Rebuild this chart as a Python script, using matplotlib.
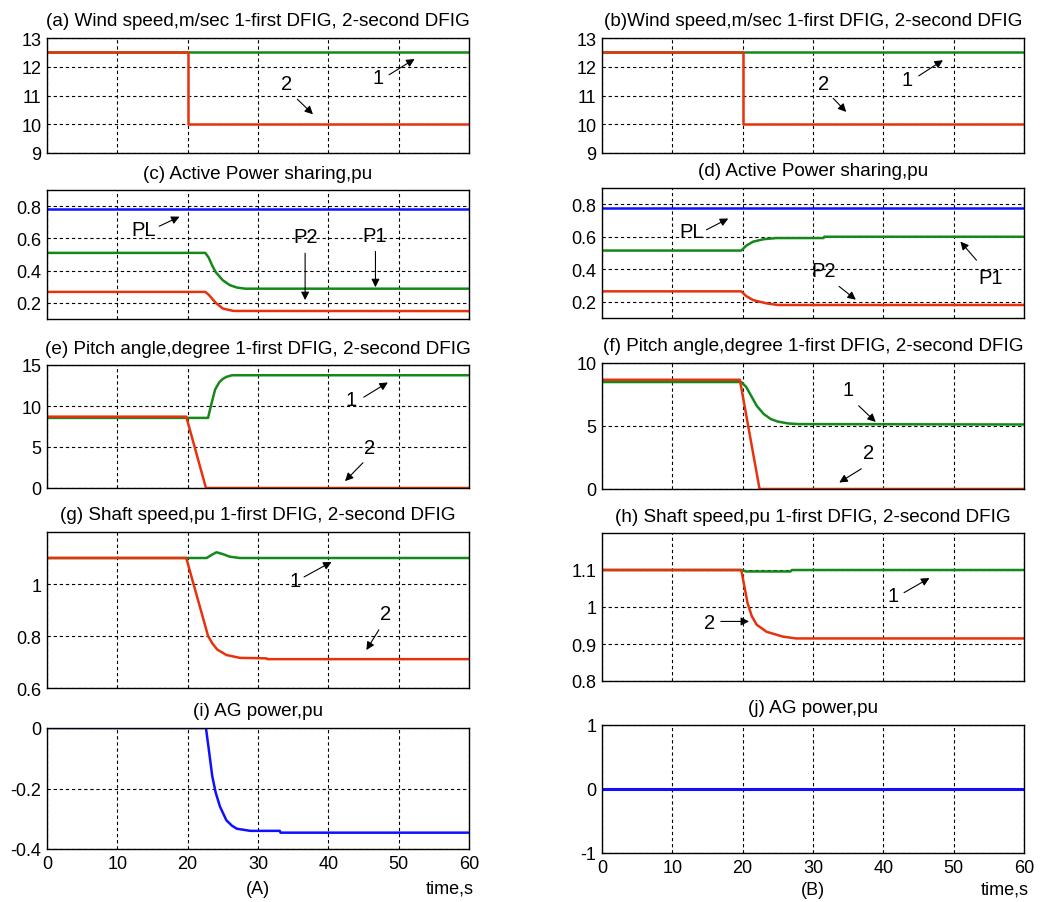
import matplotlib.pyplot as plt

plt.rcParams['font.family'] = ['Liberation Sans', 'DejaVu Sans']
plt.rcParams['axes.unicode_minus'] = False

# ---- datos ----
# (a),(b) velocidad del viento
t_wind = [0, 20, 20, 60]
wind1 = [12.5, 12.5, 12.5, 12.5]
wind2 = [12.5, 12.5, 10.0, 10.0]

# (c) potencia activa caso A
t_pl = [0, 60]
pl = [0.78, 0.78]
t_p1_A = [0, 22.5, 23.0, 23.5, 24.0, 25.0, 26.0, 27.0, 28.2, 60]
p1_A = [0.51, 0.51, 0.48, 0.43, 0.39, 0.34, 0.31, 0.295, 0.288, 0.288]
t_p2_A = [0, 22.5, 23.0, 24.0, 25.0, 26.5, 60]
p2_A = [0.268, 0.268, 0.25, 0.2, 0.165, 0.15, 0.149]

# (d) potencia activa caso B
t_p1_B = [0, 19.8, 20.5, 21.5, 23.0, 24.8, 31.5, 31.6, 60]
p1_B = [0.515, 0.515, 0.545, 0.57, 0.585, 0.592, 0.592, 0.6, 0.6]
t_p2_B = [0, 19.8, 20.5, 21.5, 23.4, 25.0, 60]
p2_B = [0.264, 0.264, 0.235, 0.21, 0.19, 0.18, 0.18]

# (e) angulo de pitch caso A
t_pitch1_A = [0, 22.9, 23.3, 23.9, 24.5, 25.0, 25.5, 26.3, 60]
pitch1_A = [8.55, 8.55, 10.0, 12.0, 12.9, 13.3, 13.55, 13.75, 13.75]
t_pitch2_A = [0, 19.8, 22.6, 60]
pitch2_A = [8.7, 8.7, 0, 0]

# (f) angulo de pitch caso B
t_pitch1_B = [0, 19.8, 20.5, 21.0, 22.0, 23.0, 24.0, 25.0, 26.5, 28.0, 60]
pitch1_B = [8.49, 8.49, 8.1, 7.6, 6.6, 5.95, 5.55, 5.35, 5.2, 5.15, 5.12]
t_pitch2_B = [0, 19.6, 22.4, 60]
pitch2_B = [8.67, 8.67, 0, 0]

# (g) velocidad del eje caso A
t_w1_A = [0, 22.7, 23.4, 24.1, 25.0, 26.0, 27.4, 60]
w1_A = [1.1, 1.1, 1.112, 1.122, 1.115, 1.105, 1.1, 1.1]
t_w2_A = [0, 19.8, 22.9, 23.5, 24.2, 25.5, 27.4, 31.2, 31.3, 60]
w2_A = [1.1, 1.1, 0.8, 0.772, 0.748, 0.727, 0.716, 0.714, 0.711, 0.711]

# (h) velocidad del eje caso B
t_w1_B = [0, 19.8, 20.5, 26.8, 27.0, 60]
w1_B = [1.1, 1.1, 1.096, 1.096, 1.1, 1.1]
t_w2_B = [0, 19.8, 20.2, 20.7, 21.3, 22.0, 23.4, 25.7, 27.6, 60]
w2_B = [1.1, 1.1, 1.06, 1.01, 0.975, 0.952, 0.933, 0.92, 0.915, 0.915]

# (i),(j) potencia AG
t_ag_A = [0, 22.6, 23.0, 23.5, 24.0, 24.6, 25.5, 26.3, 27.0, 28.9, 33.1, 33.2, 60]
ag_A = [0, 0, -0.07, -0.16, -0.215, -0.26, -0.305, -0.323, -0.333, -0.34, -0.34, -0.346, -0.346]
t_ag_B = [0, 60]
ag_B = [0, 0]

titulos = ["(a) Wind speed,m/sec 1-first DFIG, 2-second DFIG",
           "(b)Wind speed,m/sec 1-first DFIG, 2-second DFIG",
           "(c) Active Power sharing,pu", "(d) Active Power sharing,pu",
           "(e) Pitch angle,degree 1-first DFIG, 2-second DFIG",
           "(f) Pitch angle,degree 1-first DFIG, 2-second DFIG",
           "(g) Shaft speed,pu 1-first DFIG, 2-second DFIG",
           "(h) Shaft speed,pu 1-first DFIG, 2-second DFIG",
           "(i) AG power,pu", "(j) AG power,pu"]

ROJO = '#e8320c'
VERDE = '#14891a'
AZUL = '#1010ff'

W, H = 1042, 903
fig = plt.figure(figsize=(W / 100, H / 100), dpi=100)


def eje(x0, x1, ytop, ybot):
    return fig.add_axes([x0 / W, 1 - ybot / H, (x1 - x0) / W, (ybot - ytop) / H])


def formato(ax, titulo, ylim, yticks, ylabels=None, xlabels=False):
    ax.set_xlim(0, 60)
    ax.set_ylim(*ylim)
    ax.set_xticks(range(0, 61, 10))
    ax.set_yticks(yticks)
    if ylabels is not None:
        ax.set_yticklabels(ylabels)
    if not xlabels:
        ax.set_xticklabels([])
    ax.grid(True, color='black', linestyle=(0, (3, 2.5)), linewidth=0.8)
    ax.tick_params(direction='in', length=0, labelsize=13, pad=4)
    for s in ax.spines.values():
        s.set_linewidth(1.0)
    ax.set_title(titulo, fontsize=13.6, pad=9)


def flecha(ax, texto, xy, xytext, xyarrow):
    ax.text(xytext[0], xytext[1], texto, fontsize=14.5, ha='center', va='center')
    ax.annotate('', xy=xy, xytext=xyarrow,
                arrowprops=dict(arrowstyle='-|>', color='black', lw=0.8,
                                mutation_scale=12))


LX0, LX1 = 47, 469
RX0, RX1 = 602, 1024
lw = 1.8

# (a)
ax = eje(LX0, LX1, 39, 154)
ax.plot(t_wind, wind1, color=VERDE, lw=lw)
ax.plot(t_wind, wind2, color=ROJO, lw=lw)
formato(ax, titulos[0], (9, 13), [9, 10, 11, 12, 13])
flecha(ax, '2', (38.1, 10.28), (34.1, 11.4), (35.3, 10.94))
flecha(ax, '1', (52.6, 12.32), (47.0, 11.63), (48.3, 11.67))

# (b)
ax = eje(RX0, RX1, 39, 154)
ax.plot(t_wind, wind1, color=VERDE, lw=lw)
ax.plot(t_wind, wind2, color=ROJO, lw=lw)
formato(ax, titulos[1], (9, 13), [9, 10, 11, 12, 13])
flecha(ax, '2', (35.0, 10.36), (31.5, 11.4), (32.6, 10.97))
flecha(ax, '1', (48.8, 12.28), (43.4, 11.56), (44.7, 11.63))

# (c)
ax = eje(LX0, LX1, 191, 320)
ax.plot(t_pl, pl, color=AZUL, lw=lw)
ax.plot(t_p1_A, p1_A, color=VERDE, lw=lw)
ax.plot(t_p2_A, p2_A, color=ROJO, lw=lw)
formato(ax, titulos[2], (0.1, 0.9), [0.2, 0.4, 0.6, 0.8])
flecha(ax, 'PL', (19.2, 0.742), (13.7, 0.653), (15.6, 0.668))
flecha(ax, 'P2', (36.7, 0.2), (36.8, 0.61), (36.7, 0.525))
flecha(ax, 'P1', (46.7, 0.28), (46.6, 0.617), (46.7, 0.536))

# (d)
ax = eje(RX0, RX1, 189, 319)
ax.plot(t_pl, pl, color=AZUL, lw=lw)
ax.plot(t_p1_B, p1_B, color=VERDE, lw=lw)
ax.plot(t_p2_B, p2_B, color=ROJO, lw=lw)
formato(ax, titulos[3], (0.1, 0.9), [0.2, 0.4, 0.6, 0.8])
flecha(ax, 'PL', (18.3, 0.72), (12.8, 0.631), (14.5, 0.635))
flecha(ax, 'P2', (36.4, 0.202), (31.5, 0.392), (33.4, 0.305))
flecha(ax, 'P1', (50.7, 0.583), (55.2, 0.35), (53.5, 0.443))

# (e)
ax = eje(LX0, LX1, 366, 489)
ax.plot(t_pitch1_A, pitch1_A, color=VERDE, lw=lw)
ax.plot(t_pitch2_A, pitch2_A, color=ROJO, lw=lw)
formato(ax, titulos[4], (0, 15), [0, 5, 10, 15])
flecha(ax, '1', (48.8, 13.05), (43.3, 10.74), (44.7, 10.9))
flecha(ax, '2', (42.1, 0.6), (45.8, 4.95), (45.2, 3.32))

# (f)
ax = eje(RX0, RX1, 364, 490)
ax.plot(t_pitch1_B, pitch1_B, color=VERDE, lw=lw)
ax.plot(t_pitch2_B, pitch2_B, color=ROJO, lw=lw)
formato(ax, titulos[5], (0, 10), [0, 5, 10])
flecha(ax, '1', (39.2, 5.17), (35.0, 7.9), (36.2, 6.76))
flecha(ax, '2', (33.4, 0.4), (37.9, 2.86), (37.2, 1.72))

# (g)
ax = eje(LX0, LX1, 533, 689)
ax.plot(t_w1_A, w1_A, color=VERDE, lw=lw)
ax.plot(t_w2_A, w2_A, color=ROJO, lw=lw)
formato(ax, titulos[6], (0.6, 1.2), [0.6, 0.8, 1.0], ['0.6', '0.8', '1'])
flecha(ax, '1', (40.8, 1.09), (35.3, 1.013), (36.2, 1.022))
flecha(ax, '2', (45.2, 0.737), (48.2, 0.885), (47.4, 0.833))

# (h)
ax = eje(RX0, RX1, 534, 682)
ax.plot(t_w1_B, w1_B, color=VERDE, lw=lw)
ax.plot(t_w2_B, w2_B, color=ROJO, lw=lw)
formato(ax, titulos[7], (0.8, 1.2), [0.8, 0.9, 1.0, 1.1], ['0.8', '0.9', '1', '1.1'])
flecha(ax, '1', (46.9, 1.082), (41.4, 1.031), (42.6, 1.035))
flecha(ax, '2', (21.3, 0.961), (15.3, 0.959), (16.5, 0.961))

# (i)
ax = eje(LX0, LX1, 729, 850)
ax.plot(t_ag_A, ag_A, color=AZUL, lw=lw)
formato(ax, titulos[8], (-0.4, 0), [-0.4, -0.2, 0], ['-0.4', '-0.2', '0'], xlabels=True)
ax.text(30, -0.529, '(A)', fontsize=13, ha='center', va='center')
ax.text(57.3, -0.529, 'time,s', fontsize=13, ha='center', va='center')

# (j)
ax = eje(RX0, RX1, 726, 854)
ax.plot(t_ag_B, ag_B, color=AZUL, lw=2.2)
formato(ax, titulos[9], (-1, 1), [-1, 0, 1], xlabels=True)
ax.text(30, -1.565, '(B)', fontsize=13, ha='center', va='center')
ax.text(57.3, -1.565, 'time,s', fontsize=13, ha='center', va='center')

plt.savefig('out.png', dpi=100)
